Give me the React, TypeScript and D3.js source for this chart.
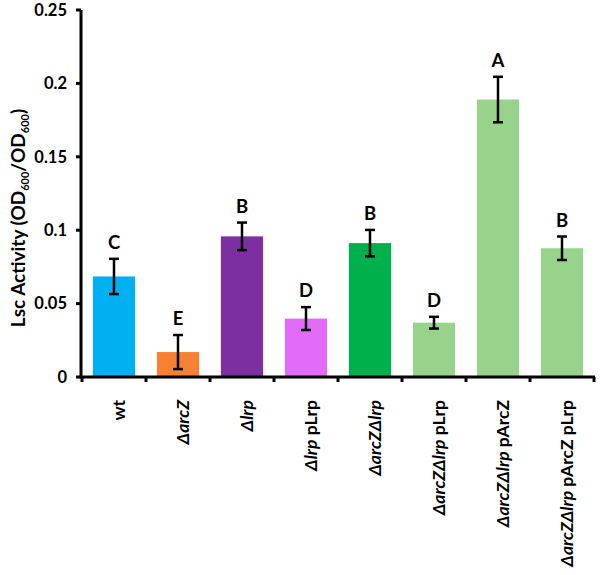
import React from "react";
import * as d3 from "d3";

const categories = [
  "wt",
  "ΔarcZ",
  "Δlrp",
  "Δlrp pLrp",
  "ΔarcZΔlrp",
  "ΔarcZΔlrp pLrp",
  "ΔarcZΔlrp pArcZ",
  "ΔarcZΔlrp pArcZ pLrp",
];
const values = [0.0685, 0.017, 0.0958, 0.0398, 0.0912, 0.037, 0.189, 0.0877];
const errors = [0.012, 0.0116, 0.0094, 0.0078, 0.009, 0.004, 0.0155, 0.008];
const letters = ["C", "E", "B", "D", "B", "D", "A", "B"];
const colors = ["#00B0F0", "#F68132", "#7B2FA0", "#E36BFA", "#00B04C", "#98D38C", "#98D38C", "#98D38C"];
const yTicks = [0, 0.05, 0.1, 0.15, 0.2, 0.25];

const FONT = "Lato, 'Open Sans', sans-serif";

export default function App() {
  const x = d3.scaleBand<string>().domain(categories).range([82, 594]).paddingInner(0.34).paddingOuter(0.17);
  const y = d3.scaleLinear().domain([0, 0.25]).range([377, 10]);
  const step = x.step();
  const x0 = 82;

  return (
    <svg width={600} height={575} style={{ position: "absolute", left: 0, top: 0, background: "#fff" }} fontFamily={FONT}>
      {categories.map((c, i) => (
        <rect key={c} x={x(c)} y={y(values[i])} width={x.bandwidth()} height={y(0) - y(values[i])} fill={colors[i]} />
      ))}
      {categories.map((c, i) => {
        const cx = (x(c) as number) + x.bandwidth() / 2;
        const t = y(values[i] + errors[i]);
        const b = y(Math.max(0, values[i] - errors[i]));
        return (
          <g key={"e" + c} stroke="#000" strokeWidth={2.5}>
            <line x1={cx} x2={cx} y1={t} y2={b} />
            <line x1={cx - 5} x2={cx + 5} y1={t} y2={t} />
            <line x1={cx - 5} x2={cx + 5} y1={b} y2={b} />
          </g>
        );
      })}
      {categories.map((c, i) => {
        const cx = (x(c) as number) + x.bandwidth() / 2;
        const t = y(values[i] + errors[i]);
        return (
          <text key={"l" + c} x={cx} y={t - 10} textAnchor="middle" fontSize={18.5} fontWeight="bold" fill="#000">
            {letters[i]}
          </text>
        );
      })}
      <line x1={81} x2={81} y1={y(0.25)} y2={y(0) + 1.5} stroke="#000" strokeWidth={3} />
      {yTicks.map((t) => (
        <g key={"yt" + t}>
          <line x1={76} x2={81} y1={y(t)} y2={y(t)} stroke="#000" strokeWidth={3} />
          <text x={67} y={y(t)} dy="0.35em" textAnchor="end" fontSize={16.5} fontWeight="bold" fill="#000">
            {String(t)}
          </text>
        </g>
      ))}
      <line x1={79.5} x2={595} y1={y(0)} y2={y(0)} stroke="#000" strokeWidth={3} />
      {d3.range(categories.length + 1).map((k) => (
        <line key={"xt" + k} x1={x0 + k * step} x2={x0 + k * step} y1={y(0)} y2={y(0) + 5} stroke="#000" strokeWidth={3} />
      ))}
      {categories.map((c) => {
        const cx = (x(c) as number) + x.bandwidth() / 2;
        const parts = c.split(" ");
        const first = parts[0];
        const rest = parts.slice(1).join(" ");
        const italicFirst = first.startsWith("Δ");
        return (
          <text
            key={"xl" + c}
            transform={`translate(${cx + 5},400) rotate(-90)`}
            textAnchor="end"
            dy="0.35em"
            fontSize={17.5}
            fontWeight="bold"
            fill="#000"
          >
            <tspan fontStyle={italicFirst ? "italic" : "normal"}>{first}</tspan>
            {rest ? <tspan>{" " + rest}</tspan> : null}
          </text>
        );
      })}
      <text transform="translate(25,218) rotate(-90)" textAnchor="middle" fontSize={19} fontWeight="bold" fill="#000">
        Lsc Activity (OD<tspan fontSize={11} dy={4}>600</tspan>
        <tspan dy={-4}>/OD</tspan>
        <tspan fontSize={11} dy={4}>600</tspan>
        <tspan dy={-4}>)</tspan>
      </text>
    </svg>
  );
}
